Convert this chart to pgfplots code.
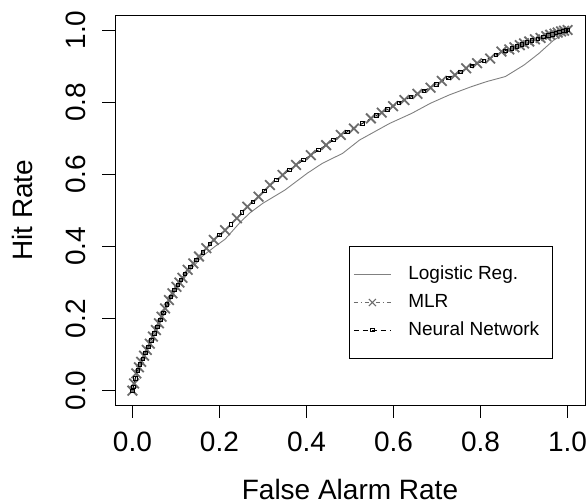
\documentclass[border=0pt]{standalone}
\usepackage{fontspec}
\setmainfont{Liberation Sans}
\usepackage{pgfplots}
\pgfplotsset{compat=1.18}

\begin{document}
\begin{tikzpicture}
\begin{axis}[
  name=ax,
  scale only axis,
  width=470bp, height=389.5bp,
  xmin=-0.04, xmax=1.04, ymin=-0.04, ymax=1.04,
  xtick={0,0.2,0.4,0.6,0.8,1}, ytick={0,0.2,0.4,0.6,0.8,1},
  xticklabels={0.0,0.2,0.4,0.6,0.8,1.0},
  yticklabels={0.0,0.2,0.4,0.6,0.8,1.0},
  tick pos=left, tick align=outside,
  major tick length=12.5bp,
  tick style={black, line width=0.9bp},
  axis line style={line width=0.9bp},
  ticklabel style={font=\fontsize{28bp}{32bp}\selectfont, inner sep=0pt},
  xticklabel style={anchor=north},
  yticklabel style={rotate=90, anchor=base},
  xticklabel shift=14bp,
  yticklabel shift=17bp,
  xlabel={False Alarm Rate},
  ylabel={Hit Rate},
  every axis x label/.style={at={(axis description cs:0.5,-0.2425)}, anchor=base,
    font=\fontsize{28bp}{32bp}\selectfont, inner sep=0pt},
  every axis y label/.style={at={(axis description cs:-0.1745,0.5)}, rotate=90, anchor=base,
    font=\fontsize{28bp}{32bp}\selectfont, inner sep=0pt},
  legend cell align=left,
  legend style={at={(0.4985,0.4085)}, anchor=north west, draw=black, line width=0.9bp,
    inner xsep=3.7bp, inner ysep=19.5bp, row sep=9.6bp, column sep=17bp,
    font=\fontsize{19bp}{22bp}\selectfont,
    nodes={inner sep=0bp, text height=14bp, text depth=4bp}},
  legend image code/.code={\draw[mark repeat=2, mark phase=2, #1] plot coordinates {(0bp,0bp) (18.5bp,0bp) (37bp,0bp)};},
]
% logistic regression
\addplot[gray, line width=0.9bp, no marks] coordinates {
(0,0) (0.01,0.045) (0.02,0.075) (0.03,0.105) (0.05,0.165) (0.07,0.215)
(0.1,0.28) (0.13,0.33) (0.16,0.372) (0.19,0.400) (0.213,0.420) (0.247,0.466)
(0.269,0.492) (0.299,0.519) (0.350,0.556) (0.402,0.603) (0.436,0.630)
(0.483,0.658) (0.522,0.695) (0.591,0.741) (0.642,0.769) (0.685,0.797)
(0.728,0.820) (0.779,0.843) (0.814,0.857) (0.857,0.871) (0.900,0.903)
(0.934,0.935) (0.968,0.972) (1,0.995)
};
\addlegendentry{Logistic Reg.}
% MLR
\addplot[gray!85!black, line width=0.8bp, dash pattern=on 4bp off 3bp on 1bp off 3bp,
  mark=x, mark size=6.8bp, mark options={solid, line width=1.8bp},
  legend image post style={mark size=5bp, mark options={solid, line width=1.1bp}}] coordinates {
(0,0) (0.004,0.02) (0.009,0.048) (0.015,0.065) (0.020,0.080) (0.027,0.097)
(0.033,0.113) (0.040,0.130) (0.047,0.150) (0.054,0.168) (0.061,0.187)
(0.067,0.205) (0.075,0.228) (0.084,0.251) (0.092,0.270) (0.101,0.288)
(0.108,0.300) (0.115,0.313) (0.127,0.335) (0.140,0.353) (0.153,0.372)
(0.170,0.395) (0.187,0.418) (0.213,0.445) (0.240,0.478) (0.264,0.510)
(0.290,0.538) (0.316,0.570) (0.345,0.598) (0.376,0.626) (0.410,0.653)
(0.445,0.681) (0.479,0.709) (0.509,0.727) (0.548,0.755) (0.573,0.771)
(0.599,0.789) (0.625,0.806) (0.655,0.823) (0.685,0.840) (0.711,0.859)
(0.741,0.875) (0.767,0.894) (0.792,0.908) (0.822,0.921) (0.848,0.940)
(0.866,0.946) (0.878,0.952) (0.890,0.958) (0.900,0.963) (0.912,0.968)
(0.925,0.974) (0.938,0.978) (0.951,0.983) (0.960,0.987) (0.970,0.990)
(0.977,0.993) (0.985,0.996) (0.992,0.998) (1,1)
};
\addlegendentry{MLR}
% neural network
\addplot[black, line width=0.8bp, dash pattern=on 5bp off 4bp,
  mark=square, mark size=1.7bp, mark options={solid, line width=0.7bp}] coordinates {
(0,0) (0.002,0.010) (0.0065,0.034) (0.012,0.0565) (0.0175,0.0725) (0.0235,0.0885)
(0.030,0.105) (0.0365,0.1215) (0.0435,0.140) (0.0505,0.159) (0.0575,0.1775)
(0.064,0.196) (0.071,0.2165) (0.0795,0.2395) (0.088,0.2605) (0.0965,0.279)
(0.1045,0.294) (0.1115,0.3065) (0.121,0.324) (0.1335,0.344) (0.1465,0.3625)
(0.1615,0.3835) (0.1785,0.4065) (0.200,0.4315) (0.2265,0.4615) (0.252,0.494)
(0.277,0.524) (0.303,0.554) (0.3305,0.584) (0.3605,0.612) (0.393,0.6395)
(0.4275,0.667) (0.462,0.695) (0.494,0.718) (0.5285,0.741) (0.5605,0.763)
(0.586,0.780) (0.612,0.7975) (0.640,0.8145) (0.670,0.8315) (0.698,0.8495)
(0.726,0.867) (0.754,0.8845) (0.7795,0.901) (0.807,0.9145) (0.835,0.9305)
(0.857,0.943) (0.872,0.949) (0.884,0.955) (0.895,0.9605) (0.906,0.9655)
(0.9185,0.971) (0.9315,0.976) (0.9445,0.9805) (0.9555,0.985) (0.965,0.9885)
(0.9735,0.9915) (0.981,0.9945) (0.9885,0.997) (0.996,0.999) (1,1)
};
\addlegendentry{Neural Network\hspace*{9bp}}
\end{axis}
\pgfresetboundingbox
\path (ax.south west) ++(-115bp,-94.9bp) rectangle ++(586bp,500bp);
\end{tikzpicture}
\end{document}
